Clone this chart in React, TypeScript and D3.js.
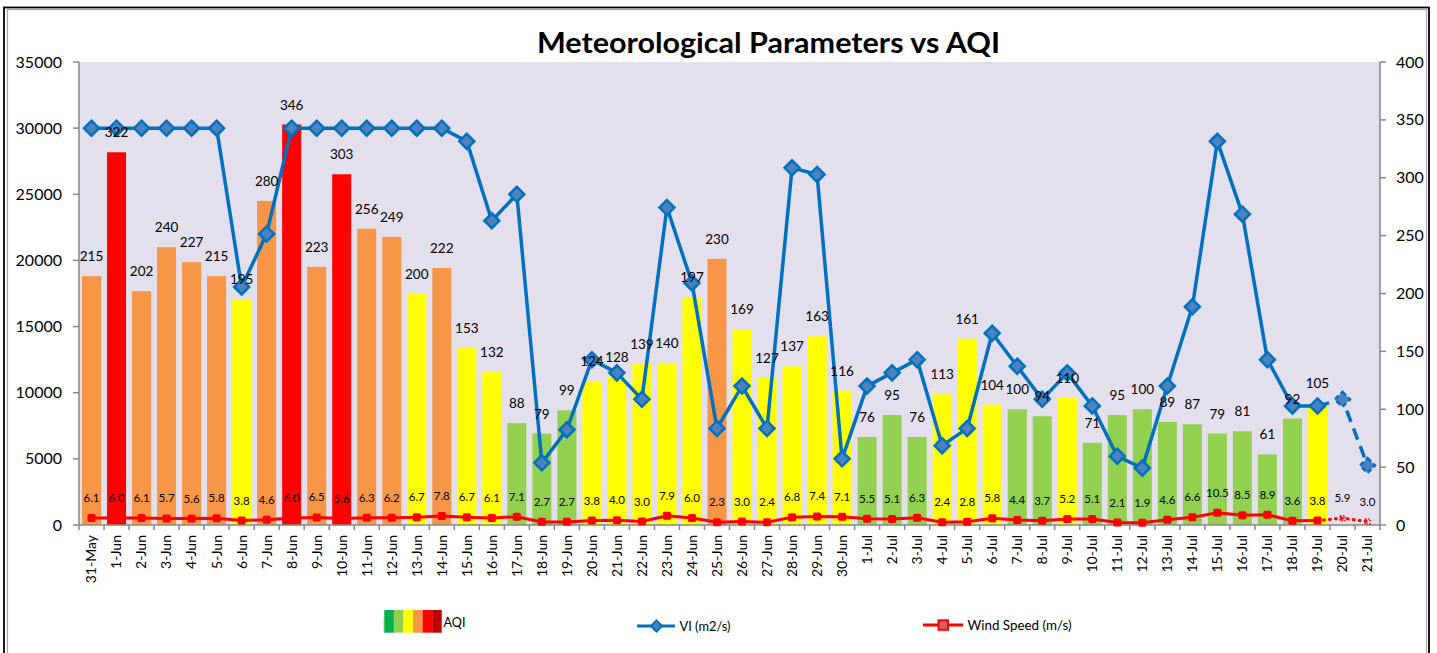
import React from 'react';
import * as d3 from 'd3';

// categories (dates)
const dates = [
  '31-May',
  '1-Jun', '2-Jun', '3-Jun', '4-Jun', '5-Jun', '6-Jun', '7-Jun', '8-Jun', '9-Jun', '10-Jun',
  '11-Jun', '12-Jun', '13-Jun', '14-Jun', '15-Jun', '16-Jun', '17-Jun', '18-Jun', '19-Jun', '20-Jun',
  '21-Jun', '22-Jun', '23-Jun', '24-Jun', '25-Jun', '26-Jun', '27-Jun', '28-Jun', '29-Jun', '30-Jun',
  '1-Jul', '2-Jul', '3-Jul', '4-Jul', '5-Jul', '6-Jul', '7-Jul', '8-Jul', '9-Jul', '10-Jul',
  '11-Jul', '12-Jul', '13-Jul', '14-Jul', '15-Jul', '16-Jul', '17-Jul', '18-Jul', '19-Jul', '20-Jul',
  '21-Jul',
];

// AQI bars (right axis), no value for the last two days
const aqi: (number | null)[] = [
  215,
  322, 202, 240, 227, 215, 195, 280, 346, 223, 303,
  256, 249, 200, 222, 153, 132, 88, 79, 99, 124,
  128, 139, 140, 197, 230, 169, 127, 137, 163, 116,
  76, 95, 76, 113, 161, 104, 100, 94, 110, 71,
  95, 100, 89, 87, 79, 81, 61, 92, 105, null,
  null,
];

// VI (m2/s), left axis
const vi = [
  30000,
  30000, 30000, 30000, 30000, 30000, 18000, 22000, 30000, 30000, 30000,
  30000, 30000, 30000, 30000, 29000, 23000, 25000, 4700, 7200, 12500,
  11500, 9500, 24000, 18300, 7300, 10500, 7300, 27000, 26500, 5000,
  10500, 11500, 12500, 6000, 7300, 14500, 12000, 9500, 11500, 9000,
  5200, 4300, 10500, 16500, 29000, 23500, 12500, 9000, 9000, 9500,
  4500,
];

// Wind speed (m/s), right axis
const wind = [
  6.1,
  6.0, 6.1, 5.7, 5.6, 5.8, 3.8, 4.6, 6.0, 6.5, 5.6,
  6.3, 6.2, 6.7, 7.8, 6.7, 6.1, 7.1, 2.7, 2.7, 3.8,
  4.0, 3.0, 7.9, 6.0, 2.3, 3.0, 2.4, 6.8, 7.4, 7.1,
  5.5, 5.1, 6.3, 2.4, 2.8, 5.8, 4.4, 3.7, 5.2, 5.1,
  2.1, 1.9, 4.6, 6.6, 10.5, 8.5, 8.9, 3.6, 3.8, 5.9,
  3.0,
];

const leftTicks = [0, 5000, 10000, 15000, 20000, 25000, 30000, 35000];
const rightTicks = [0, 50, 100, 150, 200, 250, 300, 350, 400];

const FONT = "Lato, 'Open Sans', sans-serif";
const W = 1437;
const H = 653;

const aqiColor = (v: number) =>
  v <= 50 ? '#00B050' : v <= 100 ? '#92D050' : v <= 200 ? '#FFFF00' : v <= 300 ? '#F79646' : v <= 400 ? '#FF0000' : '#C00000';

const legendStripes = ['#00B050', '#92D050', '#FFFF00', '#F79646', '#FF0000', '#C00000'];

function diamond(cx: number, cy: number, r: number) {
  return `M${cx},${cy - r}L${cx + r},${cy}L${cx},${cy + r}L${cx - r},${cy}Z`;
}

export default function App() {
  const x = d3.scaleBand<string>().domain(dates).range([79, 1380]).paddingInner(0.24).paddingOuter(0.12);
  const yL = d3.scaleLinear().domain([0, 35000]).range([525, 62]);
  const yR = d3.scaleLinear().domain([0, 400]).range([525, 62]);
  const cx = (i: number) => (x(dates[i]) as number) + x.bandwidth() / 2;
  const step = x.step();

  // last observed day; the rest is drawn as forecast
  const lastObs = aqi.reduce((acc: number, v, i) => (v != null ? i : acc), 0);

  const viLine = d3.line<number>().x((_, i) => cx(i)).y((d) => yL(d));
  const viSolid = viLine.defined((_, i) => i <= lastObs)(vi) || '';
  const viDash = d3.line<number>().x((_, i) => cx(i)).y((d) => yL(d)).defined((_, i) => i >= lastObs)(vi) || '';
  const windSolid = d3.line<number>().x((_, i) => cx(i)).y((d) => yR(d)).defined((_, i) => i <= lastObs)(wind) || '';
  const windDot = d3.line<number>().x((_, i) => cx(i)).y((d) => yR(d)).defined((_, i) => i >= lastObs)(wind) || '';

  return (
    <svg width={W} height={H} style={{ position: 'absolute', left: 0, top: 0, background: '#fff' }} fontFamily={FONT}>
      {/* frame */}
      <rect x={4} y={7.5} width={1425} height={700} fill="none" stroke="#000" strokeWidth={1.8} />
      <rect x={7.5} y={9.5} width={1419} height={700} fill="none" stroke="#A6A6A6" strokeWidth={1.2} />

      <text x={768.5} y={53} textAnchor="middle" fontSize={29} fontWeight="bold" textLength={463} lengthAdjust="spacingAndGlyphs">
        Meteorological Parameters vs AQI
      </text>

      {/* plot area */}
      <rect x={79} y={62} width={1301} height={463} fill="#E4DFEC" />

      {/* AQI bars */}
      {aqi.map((v, i) =>
        v == null ? null : (
          <rect key={'b' + i} x={x(dates[i])} y={yR(v)} width={x.bandwidth()} height={525 - yR(v)} fill={aqiColor(v)} />
        )
      )}

      {/* axes */}
      <g stroke="#868686" strokeWidth={1.5}>
        <line x1={79} x2={79} y1={62} y2={525} />
        <line x1={1380} x2={1380} y1={62} y2={525} />
        <line x1={79} x2={1380} y1={525} y2={525} />
        {leftTicks.map((t) => (
          <line key={'lt' + t} x1={73} x2={79} y1={yL(t)} y2={yL(t)} />
        ))}
        {rightTicks.map((t) => (
          <line key={'rt' + t} x1={1380} x2={1386} y1={yR(t)} y2={yR(t)} />
        ))}
        {dates.map((d, i) => (
          <line key={'xt' + i} x1={79 + step * i} x2={79 + step * i} y1={525} y2={530} />
        ))}
        <line x1={1380} x2={1380} y1={525} y2={530} />
      </g>
      {leftTicks.map((t) => (
        <text key={'ll' + t} x={62} y={yL(t)} dy="0.35em" textAnchor="end" fontSize={16}>
          {t}
        </text>
      ))}
      {rightTicks.map((t) => (
        <text key={'rl' + t} x={1396} y={yR(t)} dy="0.35em" fontSize={16}>
          {t}
        </text>
      ))}
      {dates.map((d, i) => (
        <text key={'xl' + i} transform={`translate(${cx(i)},535) rotate(-90)`} dy="0.35em" textAnchor="end" fontSize={14}>
          {d}
        </text>
      ))}

      {/* wind speed */}
      <path d={windSolid} fill="none" stroke="#FF0000" strokeWidth={3} />
      <path d={windDot} fill="none" stroke="#FF0000" strokeWidth={3} strokeDasharray="1 5" strokeLinecap="round" />
      {wind.map((v, i) =>
        i <= lastObs ? (
          <rect key={'wm' + i} x={cx(i) - 4} y={yR(v) - 4} width={8} height={8} rx={1.5} fill="#FF0000" />
        ) : (
          <rect key={'wm' + i} x={cx(i) - 2.5} y={yR(v) - 2.5} width={5} height={5} fill="none" stroke="#FF0000" strokeWidth={1.5} strokeDasharray="1.5 1.5" />
        )
      )}

      {/* VI */}
      <path d={viSolid} fill="none" stroke="#0070C0" strokeWidth={3.5} strokeLinejoin="round" />
      <path d={viDash} fill="none" stroke="#0070C0" strokeWidth={3.5} strokeDasharray="12 7" />
      {vi.map((v, i) => (
        <path
          key={'vm' + i}
          d={diamond(cx(i), yL(v), 7.5)}
          fill="#4F81BD"
          stroke="#0070C0"
          strokeWidth={2.5}
          strokeDasharray={i > lastObs ? '5 3' : undefined}
        />
      ))}

      {/* labels */}
      {aqi.map((v, i) =>
        v == null ? null : (
          <text key={'al' + i} x={cx(i)} y={yR(v) - 15} textAnchor="middle" fontSize={13.5} fill="#000">
            {v}
          </text>
        )
      )}
      {wind.map((v, i) => (
        <text key={'wl' + i} x={cx(i)} y={yR(v) - 16} textAnchor="middle" fontSize={11.5} fill="#000">
          {v.toFixed(1)}
        </text>
      ))}

      {/* legend */}
      <rect x={383} y={618} width={1.5} height={14} fill="#FFFF00" />
      {legendStripes.map((c, k) => (
        <rect key={'ls' + k} x={384.3 + k * 9.57} y={610} width={9.6} height={22.7} fill={c} />
      ))}
      <text x={443.5} y={622} dy="0.35em" fontSize={14} textLength={22} lengthAdjust="spacingAndGlyphs">
        AQI
      </text>

      <line x1={637} x2={675} y1={626} y2={626} stroke="#0070C0" strokeWidth={3} />
      <path d={diamond(656.5, 626, 5.5)} fill="#4F81BD" stroke="#0070C0" strokeWidth={2} />
      <text x={679.5} y={626} dy="0.35em" fontSize={14} textLength={51} lengthAdjust="spacingAndGlyphs">
        VI (m2/s)
      </text>

      <line x1={923} x2={963} y1={625} y2={625} stroke="#FF0000" strokeWidth={3} />
      <rect x={938.5} y={620.3} width={9.5} height={9.5} fill="#D46060" stroke="#FF0000" strokeWidth={2} />
      <text x={967.5} y={625} dy="0.35em" fontSize={14} textLength={104} lengthAdjust="spacingAndGlyphs">
        Wind Speed (m/s)
      </text>
    </svg>
  );
}
